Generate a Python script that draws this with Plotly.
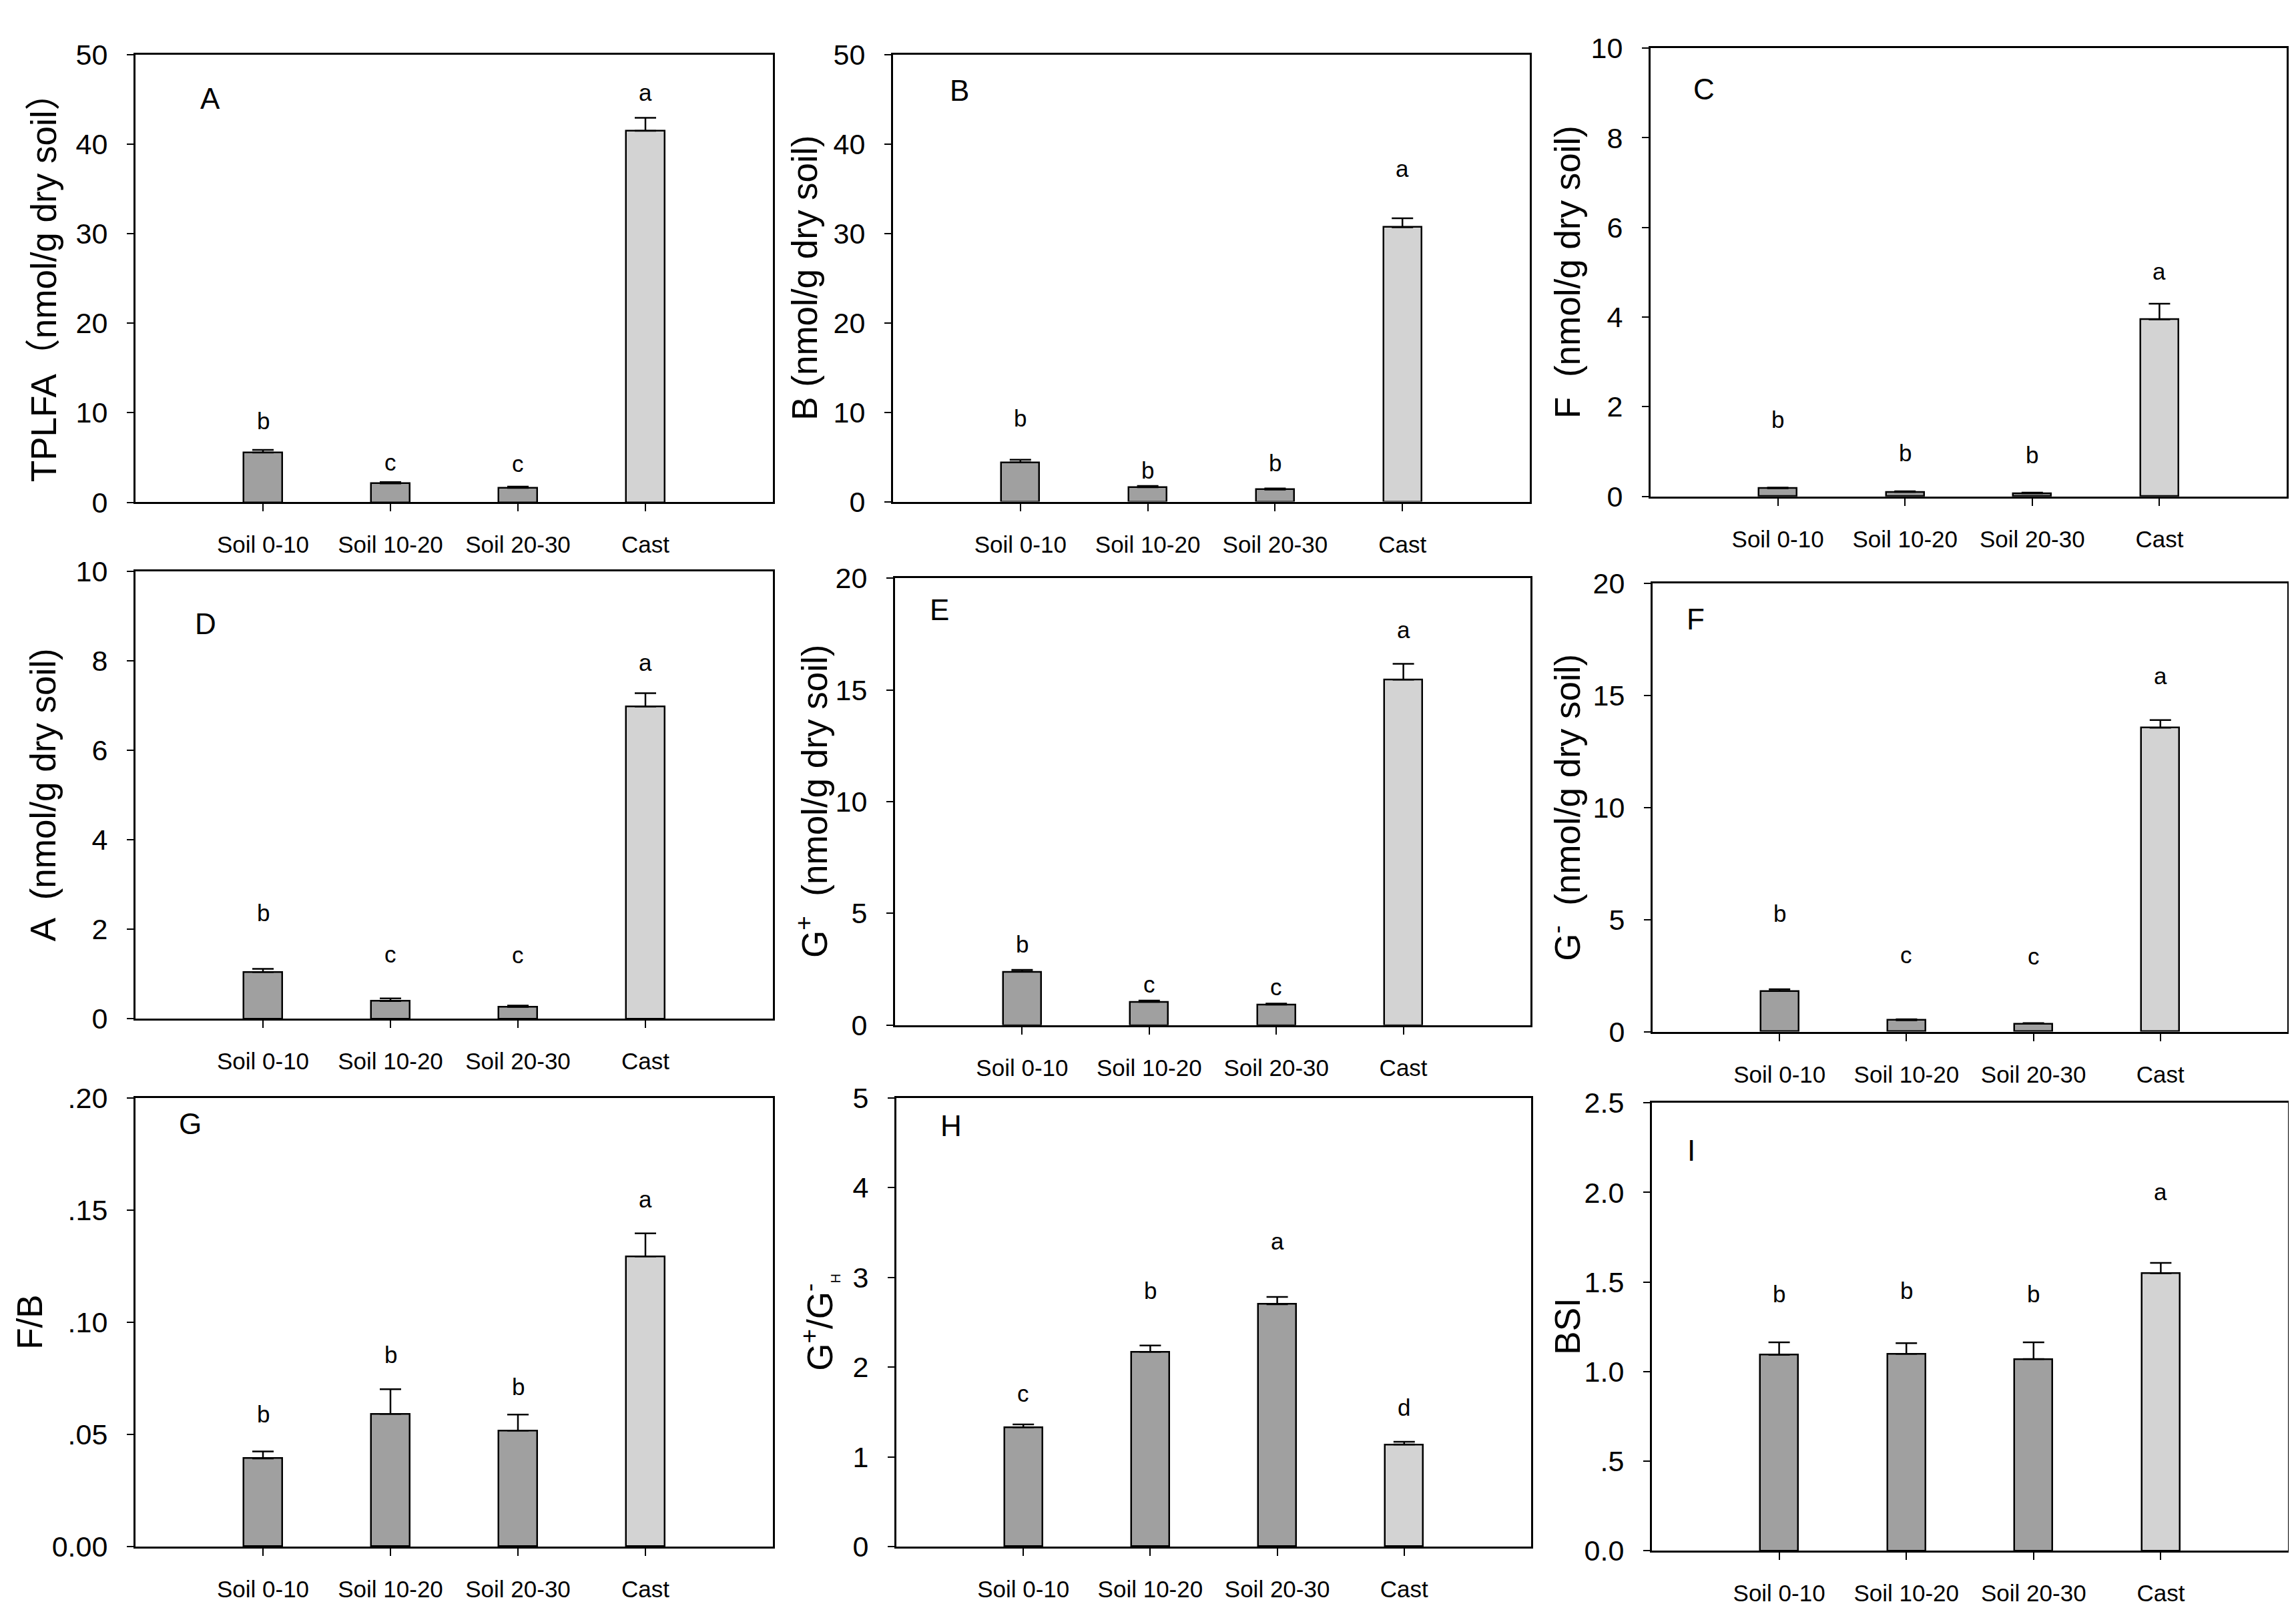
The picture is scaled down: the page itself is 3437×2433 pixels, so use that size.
import plotly.graph_objects as go

# categories shared by all nine panels
categories = ["Soil 0-10", "Soil 10-20", "Soil 20-30", "Cast"]

# values (mean, SE, significance letters)
tplfa = [5.55, 2.1, 1.6, 41.5]
tplfa_se = [0.3, 0.15, 0.15, 1.45]
tplfa_sig = ["b", "c", "c", "a"]

bact = [4.4, 1.6, 1.35, 30.7]
bact_se = [0.28, 0.15, 0.12, 1.0]
bact_sig = ["b", "b", "b", "a"]

fungi = [0.18, 0.10, 0.07, 3.95]
fungi_se = [0.015, 0.015, 0.015, 0.35]
fungi_sig = ["b", "b", "b", "a"]

actino = [1.04, 0.39, 0.26, 6.98]
actino_se = [0.07, 0.06, 0.03, 0.3]
actino_sig = ["b", "c", "c", "a"]

gpos = [2.39, 1.04, 0.92, 15.46]
gpos_se = [0.08, 0.06, 0.04, 0.71]
gpos_sig = ["b", "c", "c", "a"]

gneg = [1.81, 0.51, 0.35, 13.56]
gneg_se = [0.08, 0.04, 0.03, 0.34]
gneg_sig = ["b", "c", "c", "a"]

f_b = [0.0393, 0.0591, 0.0517, 0.1293]
f_b_se = [0.0031, 0.011, 0.0071, 0.0103]
f_b_sig = ["b", "b", "b", "a"]

gpos_gneg = [1.33, 2.17, 2.70, 1.137]
gpos_gneg_se = [0.03, 0.07, 0.08, 0.03]
gpos_gneg_sig = ["c", "b", "a", "d"]

bsi = [1.093, 1.099, 1.07, 1.549]
bsi_se = [0.07, 0.059, 0.093, 0.058]
bsi_sig = ["b", "b", "b", "a"]

# heights of the significance letters as placed in the figure
tplfa_sig_y = [9.1, 4.5, 4.3, 45.8]
bact_sig_y = [9.3, 3.5, 4.3, 37.3]
fungi_sig_y = [1.72, 0.97, 0.92, 5.02]
actino_sig_y = [2.36, 1.44, 1.42, 7.96]
gpos_sig_y = [3.62, 1.83, 1.70, 17.7]
gneg_sig_y = [5.26, 3.42, 3.37, 15.87]
f_b_sig_y = [0.0591, 0.0854, 0.0713, 0.1549]
gpos_gneg_sig_y = [1.71, 2.85, 3.40, 1.55]
bsi_sig_y = [1.434, 1.453, 1.434, 2.004]

W, H = 3437, 2433
FONT = "Liberation Sans, Arial, Noto Sans CJK SC, sans-serif"
SOIL_COL = "#a0a0a0"
CAST_COL = "#d3d3d3"

# panel boxes in pixels: left, right, top, bottom
panels = [
    dict(name="A", box=(195, 1150, 51, 735), y=tplfa, se=tplfa_se, sig=tplfa_sig, sig_y=tplfa_sig_y,
         yr=[0, 50], tv=[0, 10, 20, 30, 40, 50], tt=None,
         title="TPLFA（nmol/g dry soil）", tshift=-138, lab=(-0.415, 45.1)),
    dict(name="B", box=(1330, 2284, 51, 734), y=bact, se=bact_se, sig=bact_sig, sig_y=bact_sig_y,
         yr=[0, 50], tv=[0, 10, 20, 30, 40, 50], tt=None,
         title="B (nmol/g dry soil)", tshift=-132, lab=(-0.48, 46)),
    dict(name="C", box=(2465, 3418, 41, 726), y=fungi, se=fungi_se, sig=fungi_sig, sig_y=fungi_sig_y,
         yr=[0, 10], tv=[0, 2, 4, 6, 8, 10], tt=None,
         title="F  (nmol/g dry soil)", tshift=-124, lab=(-0.58, 9.08)),
    dict(name="D", box=(195, 1150, 841, 1524), y=actino, se=actino_se, sig=actino_sig, sig_y=actino_sig_y,
         yr=[0, 10], tv=[0, 2, 4, 6, 8, 10], tt=None,
         title="A  (nmol/g dry soil)", tshift=-139, lab=(-0.45, 8.84)),
    dict(name="E", box=(1333, 2285, 851, 1534), y=gpos, se=gpos_se, sig=gpos_sig, sig_y=gpos_sig_y,
         yr=[0, 20], tv=[0, 5, 10, 15, 20], tt=None,
         title="G<sup>+</sup>  (nmol/g dry soil)", tshift=-124, lab=(-0.65, 18.6)),
    dict(name="F", box=(2468, 3419, 859, 1544), y=gneg, se=gneg_se, sig=gneg_sig, sig_y=gneg_sig_y,
         yr=[0, 20], tv=[0, 5, 10, 15, 20], tt=None,
         title="G<sup>-</sup>  (nmol/g dry soil)", tshift=-131, lab=(-0.66, 18.4)),
    dict(name="G", box=(195, 1150, 1645, 2331), y=f_b, se=f_b_se, sig=f_b_sig, sig_y=f_b_sig_y,
         yr=[0, 0.2], tv=[0, 0.05, 0.10, 0.15, 0.20], tt=["0.00", ".05", ".10", ".15", ".20"],
         title="F/B", tshift=-158, lab=(-0.57, 0.1884)),
    dict(name="H", box=(1335, 2286, 1645, 2331), y=gpos_gneg, se=gpos_gneg_se, sig=gpos_gneg_sig,
         sig_y=gpos_gneg_sig_y, yr=[0, 5], tv=[0, 1, 2, 3, 4, 5], tt=None,
         title="G<sup>+</sup>/G<sup>-</sup><sub><span style='font-size:20px'>H</span></sub>",
         tshift=-116, lab=(-0.57, 4.69)),
    dict(name="I", box=(2467, 3420, 1653, 2337), y=bsi, se=bsi_se, sig=bsi_sig, sig_y=bsi_sig_y,
         yr=[0, 2.5], tv=[0, 0.5, 1.0, 1.5, 2.0, 2.5], tt=["0.0", ".5", "1.0", "1.5", "2.0", "2.5"],
         title="BSI", tshift=-126, lab=(-0.69, 2.233)),
]

fig = go.Figure()
annotations = []
layout_axes = {}
xpos = list(range(len(categories)))
colors = [SOIL_COL, SOIL_COL, SOIL_COL, CAST_COL]

for i, p in enumerate(panels):
    n = "" if i == 0 else str(i + 1)
    xref, yref = "x" + n, "y" + n
    l, r, t, b = p["box"]

    fig.add_trace(go.Bar(
        x=xpos, y=p["y"], width=0.3, xaxis=xref, yaxis=yref,
        marker=dict(color=colors, line=dict(color="black", width=2.5)),
        error_y=dict(type="data", symmetric=False, array=p["se"], arrayminus=[0] * 4,
                     color="black", thickness=2.5, width=16),
        showlegend=False,
    ))

    layout_axes["xaxis" + n] = dict(
        domain=[l / W, r / W], anchor=yref, range=[-1, 4],
        tickvals=xpos, ticktext=categories, ticks="outside", ticklen=11, tickwidth=2,
        tickcolor="black", showline=True, linewidth=3, linecolor="black", mirror=True,
        showgrid=False, zeroline=False, ticklabelstandoff=20,
        tickfont=dict(family=FONT, size=35, color="black"),
    )
    yax = dict(
        domain=[1 - b / H, 1 - t / H], anchor=xref, range=p["yr"], tickvals=p["tv"],
        ticks="outside", ticklen=10, tickwidth=2, tickcolor="black",
        showline=True, linewidth=3, linecolor="black", mirror=True,
        showgrid=False, zeroline=False, ticklabelstandoff=20,
        tickfont=dict(family=FONT, size=43, color="black"),
    )
    if p["tt"]:
        yax["ticktext"] = p["tt"]
    layout_axes["yaxis" + n] = yax

    # significance letters
    for k in range(len(categories)):
        annotations.append(dict(
            x=xpos[k], y=p["sig_y"][k], xref=xref, yref=yref, text=p["sig"][k],
            showarrow=False, xanchor="center", yanchor="middle",
            font=dict(family=FONT, size=35, color="black"),
        ))
    # panel letter
    annotations.append(dict(
        x=p["lab"][0], y=p["lab"][1], xref=xref, yref=yref, text=p["name"],
        showarrow=False, xanchor="center", yanchor="middle",
        font=dict(family=FONT, size=44, color="black"),
    ))
    # y axis title
    annotations.append(dict(
        x=l / W, y=1 - (t + b) / 2 / H, xref="paper", yref="paper", text=p["title"],
        textangle=-90, showarrow=False, xanchor="center", yanchor="middle",
        xshift=p["tshift"], font=dict(family=FONT, size=53, color="black"),
    ))

fig.update_layout(
    width=W, height=H, margin=dict(l=0, r=0, t=0, b=0),
    paper_bgcolor="white", plot_bgcolor="white",
    annotations=annotations, bargap=0, **layout_axes,
)

fig.write_html("out.html")
